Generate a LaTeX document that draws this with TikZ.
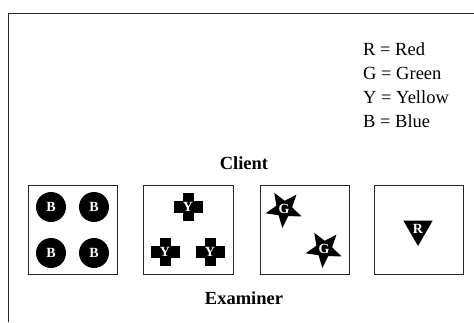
\documentclass[tikz,border=0pt]{standalone}
\usepackage{fontspec}
\setmainfont{Liberation Serif}
\usetikzlibrary{shapes.geometric}
\begin{document}
\begin{tikzpicture}[x=1pt,y=-1pt,
  frameline/.style={draw=black!85,line width=0.9pt},
  boxline/.style={draw=black!85,line width=0.8pt},
  bigtext/.style={font=\fontsize{18.5}{22}\selectfont,inner sep=0pt},
  headtext/.style={font=\fontsize{18.5}{22}\selectfont\bfseries,inner sep=0pt},
  symtext/.style={text=white,font=\fontsize{14}{16}\selectfont\bfseries,inner sep=0pt},
  ball/.style={symtext,circle,fill=black,minimum size=30pt},
  starsym/.style={symtext,star,star points=5,star point ratio=2.3,fill=black,minimum size=38pt,shape border rotate=175},
  trisym/.style={symtext,regular polygon,regular polygon sides=3,shape border rotate=180,fill=black,minimum size=34pt},
  plussym/.style={symtext}
]
\useasboundingbox (0,0) rectangle (474,322);
% outer frame (extends past the picture)
\coordinate (fbl) at (8,322);
\coordinate (ftl) at (8,13);
\coordinate (ftr) at (474,13);
\draw[frameline] (fbl) -- (ftl) -- (ftr);

% legend
\node[bigtext,anchor=base west] (lr) at (363,55) {R = Red};
\node[bigtext,anchor=base west] (lg) at (363,79) {G = Green};
\node[bigtext,anchor=base west] (ly) at (363,103) {Y = Yellow};
\node[bigtext,anchor=base west] (lb) at (363,127) {B = Blue};

% headings
\node[headtext,anchor=base] (client) at (244,169) {Client};
\node[headtext,anchor=base] (examiner) at (244,304) {Examiner};

% boxes
\node[boxline,rectangle,minimum width=89pt,minimum height=89pt,inner sep=0pt] (box1) at (72.5,229.5) {};
\node[boxline,rectangle,minimum width=90pt,minimum height=89pt,inner sep=0pt] (box2) at (188,229.5) {};
\node[boxline,rectangle,minimum width=89pt,minimum height=89pt,inner sep=0pt] (box3) at (304.5,229.5) {};
\node[boxline,rectangle,minimum width=89pt,minimum height=89pt,inner sep=0pt] (box4) at (418.5,229.5) {};

% box 1: blue circles
\node[ball] (b1) at (51,207) {B};
\node[ball] (b2) at (94,207) {B};
\node[ball] (b3) at (51,253) {B};
\node[ball] (b4) at (94,253) {B};

% box 2: yellow crosses
\coordinate (c1) at (188,207);
\coordinate (c2) at (165,252);
\coordinate (c3) at (210,252);
\foreach \c in {c1,c2,c3}{
  \fill[black] ([shift={(-14.5pt,-6pt)}]\c) rectangle ([shift={(14.5pt,6pt)}]\c);
  \fill[black] ([shift={(-5.5pt,-14pt)}]\c) rectangle ([shift={(5.5pt,14pt)}]\c);
}
\node[plussym] (y1) at (c1) {Y};
\node[plussym] (y2) at (c2) {Y};
\node[plussym] (y3) at (c3) {Y};

% box 3: green stars
\node[starsym] (g1) at (284,209) {G};
\node[starsym] (g2) at (324,249) {G};

% box 4: red triangle
\node[trisym] (r1) at (418,229) {R};
\end{tikzpicture}
\end{document}
